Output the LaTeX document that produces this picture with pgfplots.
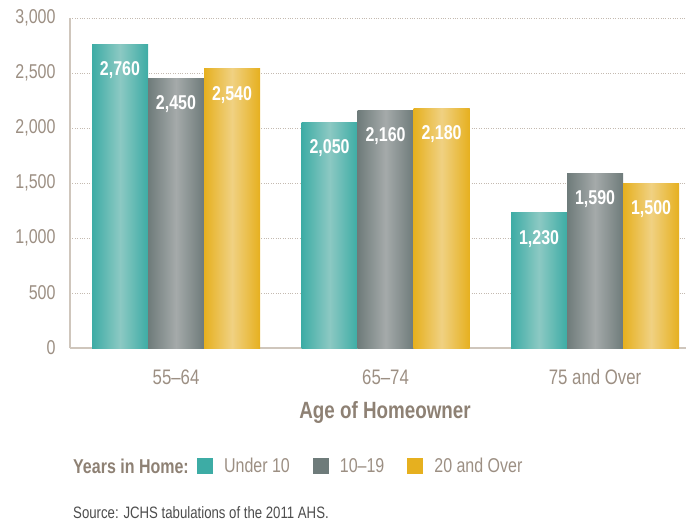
\documentclass[border=0pt]{standalone}
\usepackage{pgfplots}
\pgfplotsset{compat=1.18}
\usepackage{fontspec}
\setmainfont{Liberation Sans}[FakeStretch=0.80]
\definecolor{tealc}{HTML}{3DACA5}
\definecolor{teall}{HTML}{8CC9C3}
\definecolor{grayc}{HTML}{6E7B7A}
\definecolor{grayl}{HTML}{A5AAAA}
\definecolor{goldc}{HTML}{E6B01F}
\definecolor{goldl}{HTML}{F0D182}
\definecolor{taupe}{HTML}{9C8F83}
\definecolor{taupeb}{HTML}{8E8174}
\definecolor{axisc}{HTML}{CFC6BC}
\definecolor{gridc}{HTML}{C4BAB0}
\definecolor{srcc}{HTML}{4D4D4D}
\begin{document}
\begin{tikzpicture}
\path[use as bounding box] (-70bp,-175bp) rectangle (621bp,348bp);
\begin{axis}[
  at={(0,0)}, anchor=south west,
  scale only axis, width=616bp, height=330bp,
  ybar=0pt, bar width=56bp,
  xmin=-0.506, xmax=2.434,
  ymin=0, ymax=3000,
  ytick={0,500,1000,1500,2000,2500,3000},
  xtick={0,1,2},
  xticklabels={55--64,65--74,75 and Over},
  axis lines=left,
  axis line style={-, draw=axisc, line width=1.6pt},
  major tick length=0pt,
  ymajorgrids,
  grid style={dotted, draw=gridc, line width=0.9pt},
  /pgf/number format/assume math mode=true,
  /pgf/number format/.cd, 1000 sep={,}, fixed, /pgfplots/.cd,
  yticklabel style={font=\fontsize{20bp}{22bp}\selectfont, text=taupe, xshift=-11bp},
  xticklabel style={font=\fontsize{21bp}{23bp}\selectfont, text=taupe, yshift=-18bp},
  nodes near coords,
  every node near coord/.append style={anchor=north, yshift=-14bp, text=white, font=\fontsize{20bp}{22bp}\selectfont\bfseries},
  legend style={at={(axis description cs:0.206,-0.3576)}, anchor=west, draw=none, fill=none, inner sep=0pt,
    font=\fontsize{20bp}{22bp}\selectfont, text=taupe, legend columns=-1,
    /tikz/every odd column/.append style={column sep=9bp},
    /tikz/every even column/.append style={column sep=21bp}},
  legend image code/.code={\fill[#1] (0bp,-8bp) rectangle (16bp,8bp);},
  tealbar/.style={forget plot, bar shift=-56bp, draw=none, left color=tealc, right color=tealc, middle color=teall},
  graybar/.style={forget plot, bar shift=0bp, draw=none, left color=grayc, right color=grayc, middle color=grayl},
  goldbar/.style={forget plot, bar shift=56bp, draw=none, left color=goldc, right color=goldc, middle color=goldl},
]
% Under 10
\addplot+[tealbar] coordinates {(0,2760)};
\addplot+[tealbar] coordinates {(1,2050)};
\addplot+[tealbar] coordinates {(2,1230)};
% 10-19
\addplot+[graybar] coordinates {(0,2450)};
\addplot+[graybar] coordinates {(1,2160)};
\addplot+[graybar] coordinates {(2,1590)};
% 20 and over
\addplot+[goldbar] coordinates {(0,2540)};
\addplot+[goldbar] coordinates {(1,2180)};
\addplot+[goldbar] coordinates {(2,1500)};
\addlegendimage{fill=tealc, draw=none}
\addlegendentry{Under 10}
\addlegendimage{fill=grayc, draw=none}
\addlegendentry{10--19}
\addlegendimage{fill=goldc, draw=none}
\addlegendentry{20 and Over}
\end{axis}
\node[anchor=west, text=taupeb, font=\fontsize{20bp}{22bp}\selectfont\bfseries, inner sep=0pt] at (3bp,-118bp) {Years in Home:};
\node[anchor=center, text=taupeb, font=\fontsize{23.5bp}{26bp}\selectfont\bfseries, inner sep=0pt] at (315bp,-64bp) {Age of Homeowner};
\node[anchor=base west, text=srcc, font=\fontsize{16.5bp}{18bp}\selectfont, inner sep=0pt] at (3bp,-170bp) {Source: JCHS tabulations of the 2011 AHS.};
\end{tikzpicture}
\end{document}
